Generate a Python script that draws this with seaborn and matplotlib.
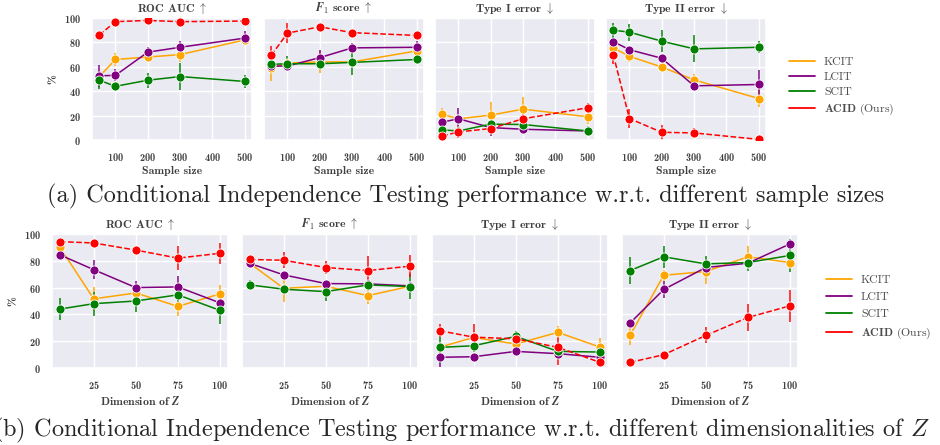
import numpy as np
import pandas as pd
import seaborn as sns
import matplotlib.pyplot as plt
from matplotlib.lines import Line2D

methods = ['KCIT', 'LCIT', 'SCIT', 'ACID']
colors = {'KCIT': 'orange', 'LCIT': 'purple', 'SCIT': 'green', 'ACID': 'red'}

# (a) sample size
sample_sizes = [50, 100, 200, 300, 500]
roc_n = {'KCIT': [52, 66, 68, 70, 82], 'LCIT': [52.6, 53, 72, 76, 83.5],
         'SCIT': [49, 44, 49, 52, 48], 'ACID': [86, 97, 98, 97, 97.5]}
roc_n_err = {'KCIT': [3, 5, 4, 6, 2], 'LCIT': [9, 5, 4, 5, 6],
             'SCIT': [7, 3, 6, 11, 5], 'ACID': [3, 1, 1, 1, 1]}
f1_n = {'KCIT': [59, 63, 64, 64, 73], 'LCIT': [60.6, 60.6, 67.5, 75.5, 76],
        'SCIT': [62, 62.5, 62.5, 63.6, 66], 'ACID': [69.4, 87.6, 92.8, 88, 85.7]}
f1_n_err = {'KCIT': [11, 3, 9, 3, 4], 'LCIT': [4, 2, 6, 4, 5],
            'SCIT': [3, 6, 2, 10, 4], 'ACID': [8, 8, 1, 3, 3]}
t1_n = {'KCIT': [21, 17.4, 20.4, 25.3, 19], 'LCIT': [14.6, 17.4, 10.2, 8.8, 7.4],
        'SCIT': [8.3, 7.4, 13, 12.7, 7.4], 'ACID': [3.3, 6.6, 9.4, 17.4, 26.4]}
t1_n_err = {'KCIT': [5, 2, 11, 10, 6], 'LCIT': [3, 9, 7, 4, 1],
            'SCIT': [2, 3, 2, 5, 4], 'ACID': [2, 5, 2, 5, 4]}
t2_n = {'KCIT': [75.5, 68.6, 59.8, 49.3, 34], 'LCIT': [80.7, 74, 67, 44.4, 45.5],
        'SCIT': [90, 88.4, 81, 74.7, 76], 'ACID': [70, 17.6, 6.3, 5.8, 0.5]}
t2_n_err = {'KCIT': [2, 5, 2, 5, 7], 'LCIT': [2, 2, 2, 4, 12],
            'SCIT': [6, 7, 9, 11, 5], 'ACID': [8, 8, 6, 4, 1]}

# (b) dimension of Z
dims = [5, 25, 50, 75, 100]
roc_d = {'KCIT': [90, 51.6, 56, 46, 55.3], 'LCIT': [84.4, 73.4, 60, 60.5, 48.6],
         'SCIT': [44, 48, 50, 54.6, 43], 'ACID': [94.3, 93.3, 88, 82, 85.6]}
roc_d_err = {'KCIT': [2, 9, 3, 7, 7], 'LCIT': [3, 7, 5, 8, 5],
             'SCIT': [8, 9, 8, 5, 10], 'ACID': [1, 1, 3, 9, 8]}
f1_d = {'KCIT': [78, 59.5, 61, 54, 61], 'LCIT': [78, 69.5, 63, 62.8, 61.3],
        'SCIT': [62, 58.8, 57, 62, 60.8], 'ACID': [81, 80.4, 75, 72.7, 76]}
f1_d_err = {'KCIT': [2, 10, 3, 6, 2], 'LCIT': [3, 2, 2, 2, 2],
            'SCIT': [4, 3, 7, 3, 9], 'ACID': [2, 6, 5, 11, 8]}
t1_d = {'KCIT': [15.6, 22.8, 17.9, 26.6, 15.6], 'LCIT': [8, 8.4, 12.4, 10.7, 8],
        'SCIT': [15.4, 16.6, 23.6, 12.4, 11.9], 'ACID': [27.8, 23, 21.8, 15.4, 4.2]}
t1_d_err = {'KCIT': [2, 3, 5, 5, 7], 'LCIT': [7, 2, 3, 2, 2],
            'SCIT': [12, 5, 4, 2, 3], 'ACID': [5, 10, 3, 13, 3]}
t2_d = {'KCIT': [24.3, 69.2, 72, 83, 78.7], 'LCIT': [33.5, 58.6, 75, 78.2, 92.6],
        'SCIT': [72.7, 83, 77.7, 78.7, 84], 'ACID': [4.2, 9.9, 24.3, 37.7, 46.4]}
t2_d_err = {'KCIT': [7, 4, 9, 8, 2], 'LCIT': [2, 6, 2, 2, 3],
            'SCIT': [10, 8, 6, 6, 12], 'ACID': [1, 1, 6, 10, 12]}

titles = ['ROC AUC $\\uparrow$', '$\\boldsymbol{F}_1$ score $\\uparrow$',
          'Type I error $\\downarrow$', 'Type II error $\\downarrow$']

sns.set_theme(style='darkgrid')
plt.rcParams['font.family'] = ['cmb10']
plt.rcParams['mathtext.fontset'] = 'cm'
plt.rcParams['axes.formatter.use_mathtext'] = True

fig = plt.figure(figsize=(9.4, 4.45), dpi=100)
W, H = 940.0, 445.0


def to_df(xs, vals, errs):
    rows = []
    for m in methods:
        for x, v, e in zip(xs, vals[m], errs[m]):
            rows.append({'x': x, 'val': v, 'err': e, 'method': m})
    return pd.DataFrame(rows)


def panel(rect, xs, vals, errs, title, xlabel, xticks, first):
    ax = fig.add_axes(rect)
    df = to_df(xs, vals, errs)
    for m in methods:
        d = df[df.method == m]
        ax.errorbar(d.x, d.val, yerr=d.err, fmt='none', ecolor=colors[m],
                    elinewidth=1.4, alpha=0.75, zorder=2)
        sns.lineplot(data=d, x='x', y='val', color=colors[m], marker='o',
                     markersize=6.5, markeredgecolor='white', markeredgewidth=0.6,
                     linewidth=1.1, linestyle='--' if m == 'ACID' else '-',
                     ax=ax, zorder=3)
    ax.set_ylim(0, 100)
    ax.set_yticks([0, 20, 40, 60, 80, 100])
    ax.set_xticks(xticks)
    ax.set_title(title, fontsize=8.5, pad=4, color='.25')
    ax.set_xlabel(xlabel, fontsize=8.5, labelpad=2, color='.25')
    ax.tick_params(labelsize=7.5, pad=2, colors='.25')
    if first:
        ax.set_ylabel('%', fontsize=8.5, color='.25')
    else:
        ax.set_ylabel('')
        ax.set_yticklabels([])
    return ax


top_data = [(roc_n, roc_n_err), (f1_n, f1_n_err), (t1_n, t1_n_err), (t2_n, t2_n_err)]
bot_data = [(roc_d, roc_d_err), (f1_d, f1_d_err), (t1_d, t1_d_err), (t2_d, t2_d_err)]

top_lefts = [92, 264, 435, 606]
for i, (v, e) in enumerate(top_data):
    panel([top_lefts[i] / W, (H - 140) / H, 160 / W, 122 / H], sample_sizes, v, e,
          titles[i], 'Sample size', [100, 200, 300, 400, 500], i == 0)

bot_lefts = [52, 242, 432, 622]
for i, (v, e) in enumerate(bot_data):
    panel([bot_lefts[i] / W, (H - 368) / H, 176 / W, 134 / H], dims, v, e,
          titles[i], 'Dimension of $\\boldsymbol{Z}$', [25, 50, 75, 100], i == 0)

handles = [Line2D([], [], color=colors[m], lw=1.3) for m in methods]
labels = ['KCIT', 'LCIT', 'SCIT', '$\\mathbf{ACID}$ (Ours)']
fig.legend(handles, labels, loc='center left', bbox_to_anchor=(778 / W, (H - 87) / H),
           frameon=False, prop={'family': 'cmr10', 'size': 8.5}, labelcolor='.3',
           handlelength=2.2, labelspacing=0.4)
fig.legend(handles, labels, loc='center left', bbox_to_anchor=(815 / W, (H - 308) / H),
           frameon=False, prop={'family': 'cmr10', 'size': 8.5}, labelcolor='.3',
           handlelength=2.2, labelspacing=0.55)

fig.text(466 / W, (H - 196) / H, '(a) Conditional Independence Testing performance w.r.t. different sample sizes',
         ha='center', va='center', fontsize=17.5, family='cmr10')
fig.text(-7 / W, (H - 430) / H,
         '(b) Conditional Independence Testing performance w.r.t. different dimensionalities of $Z$',
         ha='left', va='center', fontsize=17.5, family='cmr10')

fig.savefig('out.png', dpi=100)
